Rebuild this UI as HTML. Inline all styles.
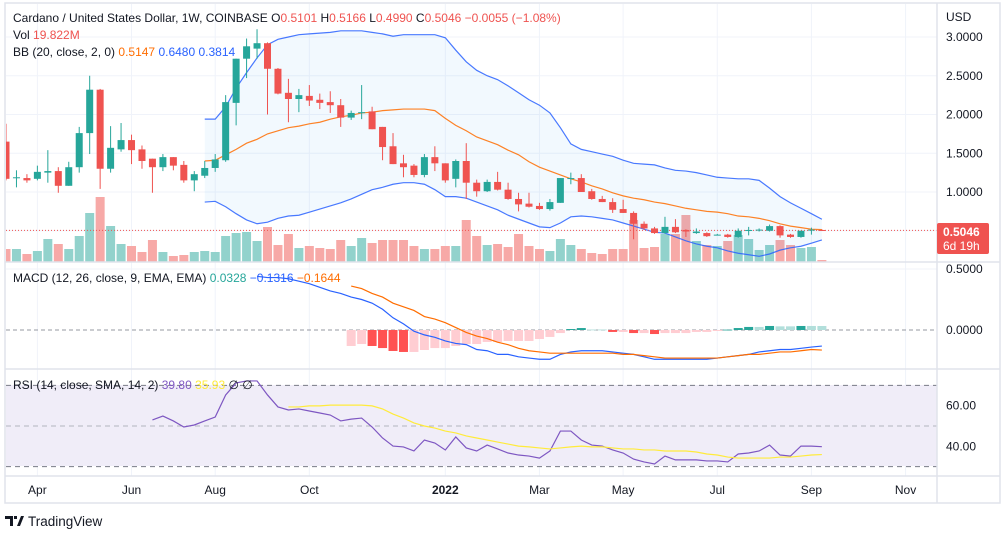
<!DOCTYPE html>
<html><head><meta charset="utf-8"><style>
html,body{margin:0;padding:0;background:#fff;width:1007px;height:539px;overflow:hidden}
svg{display:block;font-family:"Liberation Sans",sans-serif}
</style></head><body>
<svg id="chart" width="1007" height="539" viewBox="0 0 1007 539" xmlns="http://www.w3.org/2000/svg">
<defs>
<clipPath id="cMain"><rect x="6" y="4" width="931" height="258"/></clipPath>
<clipPath id="cMacd"><rect x="6" y="263" width="931" height="106"/></clipPath>
<clipPath id="cRsi"><rect x="6" y="370" width="931" height="106"/></clipPath>
</defs>
<g id="grid"></g>
<rect x="6" y="385" width="931" height="81" fill="#f0edf8"/>
<g id="main" clip-path="url(#cMain)"></g>
<g id="macd" clip-path="url(#cMacd)"></g>
<g id="rsi" clip-path="url(#cRsi)"></g>
<g id="frame" fill="none" stroke="#e0e3eb" stroke-width="1.5">
<rect x="5" y="3" width="995" height="500"/>
<line x1="5" y1="262" x2="1000" y2="262"/>
<line x1="5" y1="369" x2="1000" y2="369"/>
<line x1="5" y1="476" x2="1000" y2="476"/>
<line x1="937" y1="3" x2="937" y2="503"/>
</g>
<g id="axes" font-size="12" fill="#131722"></g>
<g font-size="12" fill="#131722">
<text x="13" y="22">Cardano / United States Dollar, 1W, COINBASE <tspan fill="#131722">O</tspan><tspan fill="#ef5350">0.5101</tspan>  H<tspan fill="#ef5350">0.5166</tspan>  L<tspan fill="#ef5350">0.4990</tspan>  C<tspan fill="#ef5350">0.5046</tspan>  <tspan fill="#ef5350">−0.0055 (−1.08%)</tspan></text>
<text x="13" y="39">Vol  <tspan fill="#ef5350">19.822M</tspan></text>
<text x="13" y="56">BB (20, close, 2, 0)  <tspan fill="#ff6d00">0.5147</tspan>  <tspan fill="#2962ff">0.6480</tspan>  <tspan fill="#2962ff">0.3814</tspan></text>
<text x="13" y="282">MACD (12, 26, close, 9, EMA, EMA)  <tspan fill="#26a69a">0.0328</tspan>  <tspan fill="#2962ff">−0.1316</tspan>  <tspan fill="#ff6d00">−0.1644</tspan></text>
<text x="13" y="389">RSI (14, close, SMA, 14, 2)  <tspan fill="#7e57c2">39.80</tspan>  <tspan fill="#ffeb3b">35.93</tspan>  ∅  ∅</text>
</g>
<g>
<rect x="937" y="223" width="52" height="31" rx="2" fill="#ef5350"/>
<text x="943" y="236" font-size="12" font-weight="bold" fill="#fff">0.5046</text>
<text x="943" y="250" font-size="12" fill="#fff">6d 19h</text>
</g>
<g>
<path d="M5 516h8v10h-3v-7h-5z M14 516h3v3h-3z M17 526l4-10h3l-4 10z" fill="#131722"/>
<text x="28" y="526" font-size="13.5" fill="#131722">TradingView</text>
</g>
</svg>
<script>
const O=[1.65,1.18,1.18,1.17,1.25,1.27,1.08,1.32,1.76,2.32,1.30,1.55,1.67,1.55,1.43,1.32,1.45,1.35,1.15,1.21,1.31,1.41,2.15,2.72,2.85,2.92,2.59,2.28,2.20,2.24,2.19,2.16,2.12,1.96,2.02,2.04,1.84,1.59,1.37,1.34,1.22,1.45,1.37,1.17,1.40,1.12,1.01,1.13,1.03,0.91,0.85,0.82,0.78,0.86,1.17,1.18,1.01,0.91,0.87,0.78,0.73,0.59,0.53,0.47,0.55,0.51,0.47,0.47,0.45,0.45,0.42,0.50,0.51,0.50,0.56,0.45,0.42,0.51,0.5101];
const H=[1.88,1.28,1.23,1.34,1.54,1.32,1.39,1.84,2.50,2.33,1.85,1.89,1.74,1.60,1.43,1.49,1.45,1.40,1.27,1.40,1.49,2.25,2.72,2.98,3.10,2.93,2.60,2.46,2.33,2.38,2.27,2.30,2.20,2.05,2.38,2.10,1.84,1.76,1.48,1.36,1.49,1.59,1.37,1.42,1.63,1.16,1.16,1.26,1.12,0.99,0.99,0.86,0.91,1.18,1.25,1.23,1.04,0.95,0.92,0.90,0.75,0.62,0.55,0.68,0.65,0.52,0.53,0.48,0.46,0.46,0.53,0.55,0.53,0.58,0.57,0.46,0.50,0.54,0.5166];
const L=[1.15,1.06,1.12,1.15,1.12,0.99,1.08,1.25,1.49,1.04,1.25,1.52,1.36,1.30,0.99,1.27,1.28,1.12,1.01,1.18,1.26,1.39,1.86,2.47,2.72,2.00,2.26,1.90,2.03,2.11,2.07,2.02,1.84,1.93,1.94,1.81,1.41,1.36,1.19,1.19,1.19,1.27,1.12,1.06,0.91,0.94,1.00,1.02,0.90,0.75,0.80,0.77,0.76,0.86,1.10,1.00,0.90,0.87,0.73,0.73,0.39,0.51,0.46,0.46,0.47,0.42,0.46,0.42,0.44,0.41,0.41,0.44,0.49,0.49,0.41,0.41,0.41,0.45,0.499];
const C=[1.17,1.19,1.15,1.26,1.27,1.08,1.32,1.76,2.32,1.30,1.57,1.67,1.54,1.40,1.32,1.45,1.34,1.15,1.23,1.31,1.42,2.16,2.72,2.88,2.92,2.59,2.27,2.20,2.25,2.18,2.15,2.12,1.96,2.02,2.03,1.81,1.58,1.36,1.32,1.22,1.45,1.37,1.15,1.40,1.12,1.01,1.13,1.03,0.91,0.84,0.81,0.78,0.87,1.18,1.18,1.00,0.91,0.87,0.77,0.73,0.59,0.53,0.47,0.55,0.48,0.49,0.49,0.43,0.45,0.42,0.50,0.51,0.515,0.56,0.44,0.42,0.50,0.515,0.5046];
const VOL=[130,130,80,110,230,180,130,260,490,650,360,180,160,100,220,100,60,70,100,110,100,260,290,300,210,350,170,280,140,160,140,130,220,160,240,190,220,220,220,160,130,130,160,160,420,260,170,180,150,280,160,130,110,230,170,130,90,80,130,130,420,140,150,280,280,470,210,170,160,210,270,230,120,170,220,170,140,150,19.8];
const BB_START=19;
const BB_UP=[1.94,1.94,2.10,2.34,2.54,2.73,2.90,2.97,3.00,3.03,3.04,3.05,3.06,3.08,3.08,3.08,3.06,3.04,3.01,3.03,3.03,3.03,3.03,2.99,2.83,2.68,2.57,2.50,2.45,2.37,2.28,2.19,2.12,2.02,1.83,1.62,1.55,1.52,1.49,1.46,1.41,1.37,1.36,1.35,1.31,1.28,1.27,1.25,1.22,1.19,1.18,1.17,1.17,1.15,1.05,0.94,0.86,0.79,0.72,0.648];
const BB_MID=[1.40,1.41,1.48,1.55,1.63,1.68,1.75,1.79,1.83,1.85,1.88,1.90,1.94,1.97,1.99,2.02,2.03,2.05,2.06,2.07,2.07,2.07,2.05,1.95,1.86,1.79,1.71,1.66,1.61,1.54,1.48,1.39,1.32,1.27,1.22,1.17,1.13,1.08,1.04,0.99,0.95,0.92,0.90,0.87,0.85,0.82,0.79,0.77,0.75,0.74,0.72,0.69,0.68,0.66,0.63,0.59,0.56,0.54,0.52,0.5147];
const BB_LOW=[0.87,0.88,0.81,0.72,0.64,0.59,0.61,0.66,0.69,0.70,0.74,0.78,0.82,0.86,0.91,0.97,1.03,1.06,1.10,1.12,1.12,1.10,1.03,0.94,0.94,0.92,0.87,0.82,0.77,0.70,0.65,0.60,0.55,0.54,0.60,0.68,0.69,0.68,0.66,0.64,0.60,0.56,0.52,0.48,0.47,0.42,0.37,0.33,0.30,0.28,0.24,0.21,0.19,0.17,0.20,0.25,0.28,0.30,0.34,0.3814];
const MACD_START=24;
const MACD=[0.44,0.43,0.43,0.42,0.40,0.38,0.35,0.32,0.30,0.27,0.25,0.22,0.17,0.10,0.05,-0.01,-0.04,-0.06,-0.09,-0.11,-0.12,-0.16,-0.17,-0.20,-0.20,-0.22,-0.23,-0.24,-0.24,-0.20,-0.18,-0.17,-0.17,-0.17,-0.18,-0.19,-0.20,-0.22,-0.24,-0.24,-0.24,-0.24,-0.24,-0.24,-0.23,-0.22,-0.21,-0.20,-0.18,-0.17,-0.16,-0.16,-0.15,-0.14,-0.1316];
const SIG_START=33;
const SIGNAL=[0.36,0.34,0.30,0.27,0.22,0.19,0.16,0.11,0.09,0.06,0.02,-0.02,-0.05,-0.07,-0.10,-0.12,-0.15,-0.17,-0.18,-0.19,-0.19,-0.19,-0.19,-0.19,-0.19,-0.19,-0.20,-0.20,-0.21,-0.22,-0.23,-0.23,-0.23,-0.23,-0.23,-0.23,-0.22,-0.21,-0.20,-0.20,-0.19,-0.18,-0.18,-0.17,-0.16,-0.1644];
const HIST_START=33;
const HIST=[-0.131,-0.115,-0.131,-0.148,-0.172,-0.180,-0.180,-0.164,-0.148,-0.148,-0.131,-0.115,-0.115,-0.098,-0.098,-0.090,-0.090,-0.090,-0.074,-0.057,-0.025,0.008,0.016,0.004,0.004,-0.016,-0.016,-0.025,-0.025,-0.033,-0.025,-0.025,-0.025,-0.016,-0.016,-0.008,0.003,0.016,0.025,0.025,0.033,0.030,0.030,0.033,0.033,0.0328];
const RSI_START=14;
const RSI=[53.0,54.9,52.5,49.5,50.5,52.5,54.4,65.3,71.2,72.2,72.2,65.3,59.4,57.9,58.4,57.4,56.4,55.4,52.5,53.4,53.9,49.5,44.1,40.1,39.7,37.7,43.1,41.6,38.2,44.6,39.2,37.7,40.6,38.7,36.7,35.7,35.2,34.2,37.7,47.5,47.5,43.1,40.6,40.1,38.2,36.7,33.7,32.3,31.3,35.2,33.3,33.3,33.3,32.8,32.8,32.3,36.2,36.7,37.7,40.6,35.7,35.2,40.1,40.1,39.80];
const RSI_MA_START=27;
const RSI_MA=[59.4,59.4,59.9,59.9,60.3,60.3,60.3,60.3,59.9,58.4,55.9,53.9,51.5,50.0,49.0,47.5,46.6,45.1,44.1,43.1,42.1,41.1,40.1,39.7,39.2,38.7,39.2,39.7,40.1,39.7,39.7,39.2,38.7,38.7,38.2,38.2,37.7,37.7,37.7,37.2,36.2,35.7,34.7,34.2,34.2,34.2,34.2,34.7,34.7,35.2,35.7,35.93];
const PRICE_TICKS=[3.0,2.5,2.0,1.5,1.0];
const MACD_TICKS=[0.5,0.0];
const RSI_TICKS=[60,40];
const TIME_LABELS=["Apr","Jun","Aug","Oct","2022","Mar","May","Jul","Sep","Nov"];
const TIME_IDX=[3,12,20,29,42,51,59,68,77,86];

const NS="http://www.w3.org/2000/svg";
const xI=i=>6+i*10.46;
const yP=p=>37+(3-p)*77.5;
const yV=v=>262-v/10;
const yM=m=>330-m*122;
const yR=r=>426-(r-50)*2.03;
function mk(parent,tag,attrs){const e=document.createElementNS(NS,tag);for(const k in attrs)e.setAttribute(k,attrs[k]);parent.appendChild(e);return e;}
const g=id=>document.getElementById(id);
const grid=g('grid'),main=g('main'),macd=g('macd'),rsi=g('rsi'),axes=g('axes');

// grid
TIME_IDX.forEach(i=>{const l=mk(grid,'line',{x1:xI(i),x2:xI(i),y1:4,y2:476,stroke:'#f0f3fa','stroke-width':1});

});
PRICE_TICKS.concat([0.5]).forEach(p=>{const l=mk(grid,'line',{x1:6,x2:937,y1:yP(p),y2:yP(p),stroke:'#f0f3fa'});

});
[yM(0.5)].concat(RSI_TICKS.map(yR)).forEach(y=>{const l=mk(grid,'line',{x1:6,x2:937,y1:y,y2:y,stroke:'#f0f3fa'});

});

// volume
VOL.forEach((v,i)=>{const up=C[i]>=O[i];const r=mk(main,'rect',{x:xI(i)-4.5,y:yV(v),width:9,height:262-yV(v),fill:up?'#92d2cc':'#f7a9a7'});

});

// BB
const bbPts=a=>a.map((p,k)=>xI(BB_START+k)+','+yP(p));
const fill=mk(main,'polygon',{points:bbPts(BB_UP).concat(bbPts(BB_LOW).reverse()).join(' '),fill:'rgba(33,150,243,0.06)'});


[[BB_UP,'#2962ff','bb-upper'],[BB_LOW,'#2962ff','bb-lower'],[BB_MID,'#ff6d00','bb-basis']].forEach(([a,c,n])=>{
const l=mk(main,'polyline',{points:bbPts(a).join(' '),fill:'none',stroke:c,'stroke-width':1.2,opacity:0.85});

});

// last price line
const lp=mk(main,'line',{x1:6,x2:937,y1:yP(C[C.length-1]),y2:yP(C[C.length-1]),stroke:'#ef5350','stroke-dasharray':'1 2'});


mk(g('chart'),'line',{x1:937,x2:937,y1:0,y2:0});

// candles
O.forEach((o,i)=>{const c=C[i],up=c>=o,col=up?'#26a69a':'#ef5350',x=xI(i);
const w=mk(main,'line',{x1:x,x2:x,y1:yP(H[i]),y2:yP(L[i]),stroke:col,'stroke-width':1});


const t=Math.min(yP(o),yP(c)),h=Math.max(1,Math.abs(yP(o)-yP(c)));
const b=mk(main,'rect',{x:x-3.5,y:t,width:7,height:h,fill:col});

});

// MACD
const zl=mk(macd,'line',{x1:6,x2:937,y1:yM(0),y2:yM(0),stroke:'#9598a1','stroke-dasharray':'4 3'});


HIST.forEach((h,k)=>{const prev=k>0?HIST[k-1]:h;let col;
if(h>=0)col=h>prev?'#26a69a':'#b2dfdb';else col=h<prev?'#ff5252':'#ffcdd2';
const y0=yM(0),y1=yM(h);
const r=mk(macd,'rect',{x:xI(HIST_START+k)-4.5,y:Math.min(y0,y1),width:9,height:Math.max(0.8,Math.abs(y1-y0)),fill:col});

});
const ml=mk(macd,'polyline',{points:MACD.map((m,k)=>xI(MACD_START+k)+','+yM(m)).join(' '),fill:'none',stroke:'#2962ff','stroke-width':1.2});


const sl=mk(macd,'polyline',{points:SIGNAL.map((m,k)=>xI(SIG_START+k)+','+yM(m)).join(' '),fill:'none',stroke:'#ff6d00','stroke-width':1.2});



// RSI
[70,50,30].forEach(v=>{const l=mk(rsi,'line',{x1:6,x2:937,y1:yR(v),y2:yR(v),stroke:v==50?'#b2b5be':'#787b86','stroke-dasharray':'5 4'});

});
const rl=mk(rsi,'polyline',{points:RSI.map((r,k)=>xI(RSI_START+k)+','+yR(r)).join(' '),fill:'none',stroke:'#7e57c2','stroke-width':1.2});


const rm=mk(rsi,'polyline',{points:RSI_MA.map((r,k)=>xI(RSI_MA_START+k)+','+yR(r)).join(' '),fill:'none',stroke:'#ffeb3b','stroke-width':1.2});



// axes labels
const usd=mk(axes,'text',{x:946,y:21});usd.textContent='USD';


PRICE_TICKS.forEach(p=>{const t=mk(axes,'text',{x:946,y:yP(p)+4});t.textContent=p.toFixed(4);

});
MACD_TICKS.forEach(m=>{const t=mk(axes,'text',{x:946,y:yM(m)+4});t.textContent=m.toFixed(4);

});
RSI_TICKS.forEach(r=>{const t=mk(axes,'text',{x:946,y:yR(r)+4});t.textContent=r.toFixed(2);

});
TIME_LABELS.forEach((s,k)=>{const t=mk(axes,'text',{x:xI(TIME_IDX[k]),y:494,'text-anchor':'middle'});t.textContent=s;
if(s==='2022')t.setAttribute('font-weight','bold');

});
</script>
</body></html>
